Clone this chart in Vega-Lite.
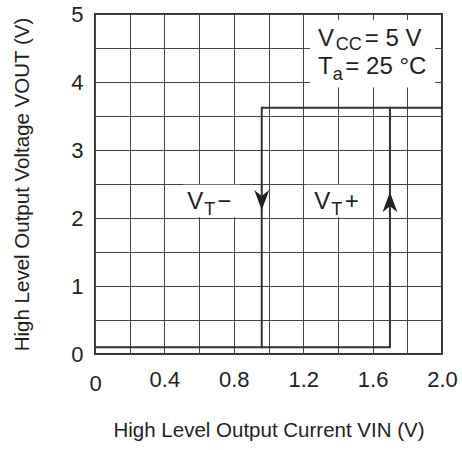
{
  "$schema": "https://vega.github.io/schema/vega-lite/v6.json",
  "width": 347,
  "height": 340,
  "autosize": {"type": "none"},
  "padding": {"left": 95, "top": 14, "right": 20, "bottom": 96},
  "background": "white",
  "config": {
    "view": {"stroke": "#333333", "strokeWidth": 2},
    "axis": {
      "domain": false,
      "ticks": false,
      "grid": true,
      "gridColor": "#444444",
      "gridOpacity": 1,
      "gridWidth": 1,
      "labelFont": "Liberation Sans",
      "labelFontSize": 22,
      "labelColor": "#231f20",
      "titleFont": "Liberation Sans",
      "titleFontSize": 20.5,
      "titleFontWeight": "normal",
      "titleColor": "#231f20",
      "labelOverlap": false
    }
  },
  "datasets": {
    "boxes": [
      {"x": 0.507, "x2": 0.836, "y": 2.01, "y2": 2.49},
      {"x": 1.21, "x2": 1.59, "y": 2.01, "y2": 2.49},
      {"x": 1.24, "x2": 1.96, "y": 3.92, "y2": 4.91}
    ],
    "curve": [
      {"series": "A", "o": 1, "x": 0, "y": 0.1},
      {"series": "A", "o": 2, "x": 1.7, "y": 0.1},
      {"series": "A", "o": 3, "x": 1.7, "y": 3.62},
      {"series": "A", "o": 4, "x": 2.0, "y": 3.62},
      {"series": "B", "o": 1, "x": 1.7, "y": 3.62},
      {"series": "B", "o": 2, "x": 0.961, "y": 3.62},
      {"series": "B", "o": 3, "x": 0.961, "y": 0.1}
    ],
    "arrows": [
      {"dir": "down", "x": 0.961, "y": 2.265},
      {"dir": "up", "x": 1.7, "y": 2.23}
    ],
    "texts": [
      {"role": "main", "t": "V", "x": 0.532, "y": 2.137},
      {"role": "sub", "t": "T", "x": 0.63, "y": 2.038},
      {"role": "main", "t": "−", "x": 0.705, "y": 2.137},
      {"role": "main", "t": "V", "x": 1.264, "y": 2.137},
      {"role": "sub", "t": "T", "x": 1.362, "y": 2.038},
      {"role": "main", "t": "+", "x": 1.44, "y": 2.137},
      {"role": "main", "t": "V", "x": 1.285, "y": 4.534},
      {"role": "sub", "t": "CC", "x": 1.387, "y": 4.465},
      {"role": "main", "t": "= 5 V", "x": 1.555, "y": 4.534},
      {"role": "main", "t": "T", "x": 1.285, "y": 4.122},
      {"role": "sub", "t": "a", "x": 1.37, "y": 4.034},
      {"role": "main", "t": "= 25 °C", "x": 1.443, "y": 4.122}
    ]
  },
  "encoding": {
    "x": {
      "field": "x",
      "type": "quantitative",
      "scale": {"domain": [0, 2], "nice": false, "zero": false},
      "axis": {
        "title": "High Level Output Current VIN (V)",
        "values": [0, 0.2, 0.4, 0.6, 0.8, 1.0, 1.2, 1.4, 1.6, 1.8, 2.0],
        "labelExpr": "round(datum.value*10) % 4 === 0 ? (datum.value === 0 ? '0' : format(datum.value, '.1f')) : ''",
        "labelPadding": {"condition": {"test": "datum.value === 0", "value": 19}, "value": 15},
        "labelFlush": false,
        "titlePadding": 26
      }
    },
    "y": {
      "field": "y",
      "type": "quantitative",
      "scale": {"domain": [0, 5], "nice": false, "zero": false},
      "axis": {
        "title": "High Level Output Voltage VOUT (V)",
        "values": [0, 0.5, 1, 1.5, 2, 2.5, 3, 3.5, 4, 4.5, 5],
        "labelExpr": "round(datum.value*2) % 2 === 0 ? format(datum.value, 'd') : ''",
        "labelPadding": 12,
        "titlePadding": 38
      }
    }
  },
  "layer": [
    {
      "data": {"name": "boxes"},
      "mark": {"type": "rect", "fill": "white", "stroke": null},
      "encoding": {"x2": {"field": "x2"}, "y2": {"field": "y2"}}
    },
    {
      "data": {"name": "curve"},
      "mark": {"type": "line", "stroke": "#333333", "strokeWidth": 2, "strokeCap": "square"},
      "encoding": {
        "detail": {"field": "series"},
        "order": {"field": "o", "type": "quantitative"}
      }
    },
    {
      "data": {"name": "arrows"},
      "transform": [{"filter": "datum.dir === 'down'"}],
      "mark": {"type": "point", "filled": true, "color": "#231f20", "opacity": 1, "size": 400, "shape": "M0,1L-0.75,-1L0,-0.4L0.75,-1Z"},
      "encoding": {}
    },
    {
      "data": {"name": "arrows"},
      "transform": [{"filter": "datum.dir === 'up'"}],
      "mark": {"type": "point", "filled": true, "color": "#231f20", "opacity": 1, "size": 400, "shape": "M0,-1L-0.75,1L0,0.4L0.75,1Z"},
      "encoding": {}
    },
    {
      "data": {"name": "texts"},
      "transform": [{"filter": "datum.role === 'main'"}],
      "mark": {"type": "text", "align": "left", "baseline": "alphabetic", "font": "Liberation Sans", "fontSize": 24, "color": "#231f20"},
      "encoding": {"text": {"field": "t"}}
    },
    {
      "data": {"name": "texts"},
      "transform": [{"filter": "datum.role === 'sub'"}],
      "mark": {"type": "text", "align": "left", "baseline": "alphabetic", "font": "Liberation Sans", "fontSize": 18, "color": "#231f20"},
      "encoding": {"text": {"field": "t"}}
    }
  ]
}
